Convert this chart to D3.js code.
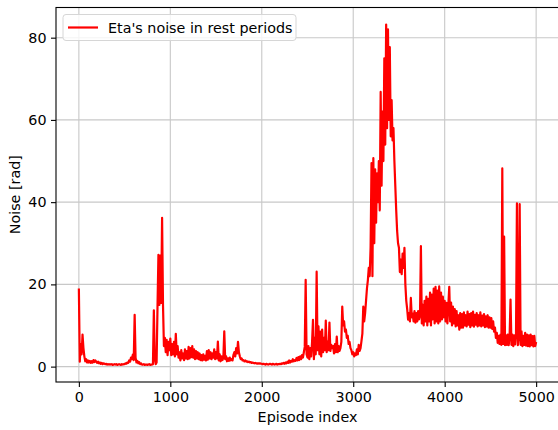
<!DOCTYPE html>
<html>
<head>
<meta charset="utf-8">
<script src="https://cdn.jsdelivr.net/npm/d3@7"></script>
<style>
  body { margin: 0; background: #fff; }
  svg { display: block; font-family: "DejaVu Sans", sans-serif; }
</style>
</head>
<body>
<div id="chart"></div>
<script>
// data: one value every 10 episodes
const episodeStep = 10;
const noise = [
  19, 1.2, 5.5, 3, 7.8, 4.5, 2.5, 1.3, 1.8, 1.0,            // 0
  1.5, 1.0, 1.4, 0.9, 1.3, 1.0, 1.6, 1.1, 1.5, 1.2,         // 100
  0.9, 1.2, 0.8, 1.0, 0.7, 0.9, 0.6, 0.8, 0.7, 0.6,         // 200
  0.7, 0.5, 0.6, 0.5, 0.6, 0.5, 0.6, 0.4, 0.5, 0.6,         // 300
  0.5, 0.6, 0.4, 0.5, 0.6, 0.5, 0.4, 0.6, 0.5, 0.6,         // 400
  0.6, 0.8, 0.7, 1.0, 0.9, 1.5, 1.2, 2.2, 1.8, 2.9,         // 500
  1.6, 12.6, 2.2, 1.0, 1.4, 0.8, 1.1, 0.6, 0.8, 0.5,        // 600
  0.5, 0.6, 0.4, 0.5, 0.5, 0.4, 0.5, 0.6, 0.4, 0.5,         // 700
  0.5, 0.6, 13.7, 2, 0.6, 1.0, 14.6, 27.2, 15, 27,          // 800
  15.5, 36.2, 15, 5, 7, 3.5, 6.5, 2.8, 6, 4,                // 900
  6.8, 2.8, 5.5, 3, 6, 2.5, 8, 3, 5, 2.2,                   // 1000
  3.5, 1.5, 4, 2, 3.2, 1.6, 4.2, 2, 3.8, 1.8,               // 1100
  4.8, 2, 4.5, 2.3, 5, 2.2, 4.2, 1.8, 3.8, 2,               // 1200
  3.5, 1.8, 3.2, 1.6, 2.8, 1.5, 3, 1.7, 2.6, 1.5,           // 1300
  3.8, 1.7, 4, 2, 3.5, 1.8, 3.2, 2.2, 4.2, 1.8,             // 1400
  3.5, 2, 6.1, 1.5, 3, 1.3, 2.5, 1.6, 2.2, 8.6,             // 1500
  1.8, 2.5, 1.3, 2, 1.4, 2.2, 1.5, 1.8, 1.5, 2.8,           // 1600
  3.5, 2.5, 4.5, 3.2, 6, 3.5, 2.5, 1.8, 2, 1.5,             // 1700
  1.6, 1.3, 1.5, 1.2, 1.3, 1.1, 1.2, 1.0, 1.1, 0.9,         // 1800
  1.0, 0.9, 0.8, 0.9, 0.8, 0.7, 0.8, 0.7, 0.8, 0.7,         // 1900
  0.7, 0.6, 0.7, 0.6, 0.5, 0.7, 0.6, 0.5, 0.6, 0.7,         // 2000
  0.6, 0.5, 0.7, 0.6, 0.5, 0.6, 0.7, 0.5, 0.6, 0.6,         // 2100
  0.7, 0.6, 0.8, 0.7, 0.9, 0.7, 1.0, 0.8, 1.2, 0.9,         // 2200
  1.5, 1.0, 1.4, 1.2, 1.8, 1.3, 1.6, 1.4, 2.1, 1.5,         // 2300
  2.3, 1.6, 2.5, 1.8, 2.8, 2.2, 3.5, 4.8, 21.1, 3.0,        // 2400
  2.2, 5.0, 1.8, 4.5, 2.5, 6, 11.4, 1.8, 7, 3,              // 2500
  23.1, 4, 9.8, 3, 8.5, 2.5, 9, 3.5, 7, 4,                  // 2600
  11.2, 3.5, 6, 4, 10.7, 3.8, 5.3, 4.5, 5, 3.2,             // 2700
  5.5, 3.5, 7.3, 3.5, 5, 3.8, 4.5, 6, 14.6, 10,             // 2800
  11, 8.5, 9, 7, 7.5, 5.5, 6, 4.5, 4, 3,                    // 2900
  3.5, 2.5, 3.2, 2.8, 4.2, 3, 5.3, 3.8, 4.5, 6.2,           // 3000
  8, 14.6, 11, 13, 16, 19, 21, 24, 22, 29,                  // 3100
  49.5, 22, 50.7, 30, 48, 35, 47, 40, 50, 38,               // 3200
  66.8, 44, 62, 50, 75, 54, 83.2, 58, 82, 60,               // 3300
  77.7, 56, 64.8, 55, 58, 50, 44, 38, 33, 30,               // 3400
  28.9, 23, 26, 22.5, 27.5, 24, 28.9, 20, 16, 14,           // 3500
  11.4, 13, 11, 16.7, 12, 12.9, 11, 13.5, 10.7, 13,         // 3600
  11, 13.5, 11.5, 12.5, 29.3, 10.5, 15, 10, 16, 11,         // 3700
  17, 10, 16.5, 11, 18, 10, 17.5, 11.5, 19, 10.5,           // 3800
  19.4, 11, 18.5, 10.5, 19.5, 11, 18, 11.5, 17, 12,         // 3900
  16, 11, 15.5, 10.5, 15, 19.4, 11, 15.6, 10, 14.6,         // 4000
  10.5, 14, 9.8, 13.5, 10, 12.5, 9, 13, 9.5, 12.8,          // 4100
  9.5, 13.2, 10, 12.5, 9.8, 13.4, 10.2, 12.8, 9.6, 13,      // 4200
  10, 13.4, 9.7, 12.6, 10.2, 13, 9.8, 12.5, 10, 13.2,       // 4300
  9.8, 12.4, 10, 12.8, 9.6, 12.2, 9.8, 12.5, 9.5, 12,       // 4400
  9.5, 11.8, 9.2, 11, 8.5, 9.5, 7, 8.2, 5.8, 7.5,           // 4500
  5.5, 7.8, 5.3, 48.2, 5.5, 31.6, 5.2, 7.6, 5.3, 7.8,       // 4600
  5.2, 7.5, 16.3, 5.3, 7.8, 5.0, 7.6, 5.4, 8, 39.7,         // 4700
  5.2, 7.5, 39.5, 5.3, 8.6, 5.0, 7.5, 5.3, 8.2, 5.1,        // 4800
  7.8, 5.0, 7.6, 4.9, 7.8, 5.2, 7.4, 4.9, 7.5, 5.0,         // 4900
  6                                                          // 5000
];
const xTicks = [0, 1000, 2000, 3000, 4000, 5000];
const yTicks = [0, 20, 40, 60, 80];
const seriesName = "Eta's noise in rest periods";

const W = 558, H = 430;
const margin = {top: 7.5, left: 56, right: -1, bottom: 48};
const width = W - margin.left - margin.right,
      height = H - margin.top - margin.bottom;

const data = noise.map((v, i) => ({ep: i * episodeStep, v}));

// matplotlib style 5% padding
const xExt = d3.extent(data, d => d.ep);
const yExt = d3.extent(data, d => d.v);
const xPad = (xExt[1] - xExt[0]) * 0.05, yPad = (yExt[1] - yExt[0]) * 0.05;

const x = d3.scaleLinear().domain([xExt[0] - xPad, xExt[1] + xPad]).range([0, width]);
const y = d3.scaleLinear().domain([yExt[0] - yPad, yExt[1] + yPad]).range([height, 0]);

const svg = d3.select('#chart')
  .append('svg')
  .attr('width', W)
  .attr('height', H);

const g = svg.append('g')
  .attr('transform', `translate(${margin.left},${margin.top})`);

g.append('clipPath').attr('id', 'clip')
  .append('rect').attr('width', width).attr('height', height);

// grid
g.append('g')
  .selectAll('line')
  .data(xTicks)
  .join('line')
  .attr('x1', d => x(d)).attr('x2', d => x(d))
  .attr('y1', 0).attr('y2', height)
  .attr('stroke', '#c8c8c8').attr('stroke-width', 1.1);

g.append('g')
  .selectAll('line')
  .data(yTicks)
  .join('line')
  .attr('x1', 0).attr('x2', width)
  .attr('y1', d => y(d)).attr('y2', d => y(d))
  .attr('stroke', '#c8c8c8').attr('stroke-width', 1.1);

// the series
g.append('path')
  .datum(data)
  .attr('clip-path', 'url(#clip)')
  .attr('fill', 'none')
  .attr('stroke', '#ff0000')
  .attr('stroke-width', 2.2)
  .attr('stroke-linejoin', 'round')
  .attr('d', d3.line().x(d => x(d.ep)).y(d => y(d.v)));

// axes
const xAxis = g.append('g')
  .attr('transform', `translate(0,${height})`)
  .call(d3.axisBottom(x).tickValues(xTicks).tickSize(5).tickPadding(4.5).tickFormat(d3.format('d')));
const yAxis = g.append('g')
  .call(d3.axisLeft(y).tickValues(yTicks).tickSize(5).tickPadding(4.5).tickFormat(d3.format('d')));

[xAxis, yAxis].forEach(a => {
  a.select('.domain').remove();
  a.selectAll('line').attr('stroke', '#000').attr('stroke-width', 1.1);
  a.selectAll('text').attr('font-family', '"DejaVu Sans", sans-serif').attr('font-size', 14.3).attr('fill', '#000');
});

// spines
g.append('rect')
  .attr('width', width).attr('height', height)
  .attr('fill', 'none').attr('stroke', '#000').attr('stroke-width', 1.1);

// axis labels
svg.append('text')
  .attr('x', margin.left + width / 2)
  .attr('y', 422)
  .attr('text-anchor', 'middle')
  .attr('font-size', 14.3)
  .text('Episode index');

svg.append('text')
  .attr('transform', `translate(20,${margin.top + height / 2}) rotate(-90)`)
  .attr('text-anchor', 'middle')
  .attr('font-size', 14.3)
  .text('Noise [rad]');

// legend
const leg = g.append('g').attr('transform', 'translate(7,7)');
leg.append('rect')
  .attr('width', 233).attr('height', 26).attr('rx', 3)
  .attr('fill', '#fff').attr('fill-opacity', 0.8)
  .attr('stroke', '#d6d6d6').attr('stroke-width', 1);
leg.append('line')
  .attr('x1', 5).attr('x2', 35).attr('y1', 13).attr('y2', 13)
  .attr('stroke', '#ff0000').attr('stroke-width', 2.2);
leg.append('text')
  .attr('x', 45).attr('y', 18)
  .attr('font-size', 14.3)
  .text(seriesName);
</script>
</body>
</html>
